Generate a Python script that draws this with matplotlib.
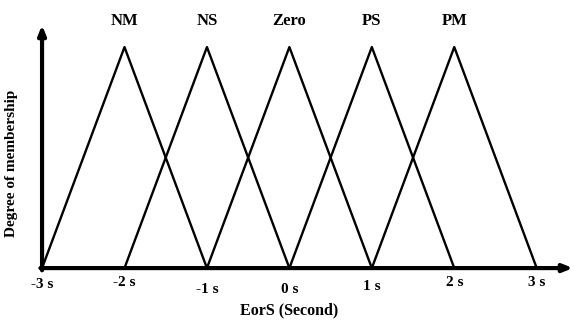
import matplotlib
matplotlib.use("Agg")
import matplotlib.pyplot as plt

# 隶属度関数のデータ
set_names = ["NM", "NS", "Zero", "PS", "PM"]
peaks = [-2, -1, 0, 1, 2]
half_width = 1
tick_values = [-3, -2, -1, 0, 1, 2, 3]
tick_labels = ["-3 s", "-2 s", "-1 s", "0 s", "1 s", "2 s", "3 s"]

plt.rcParams["font.family"] = ["Liberation Serif", "DejaVu Serif"]
plt.rcParams["font.weight"] = "bold"

fig = plt.figure(figsize=(5.73, 3.24), dpi=100)
ax = fig.add_axes([0, 0, 1, 1])
ax.set_xlim(-3.51, 3.44)
ax.set_ylim(-0.253, 1.213)
ax.axis("off")

# 三角形
for name, p in zip(set_names, peaks):
    ax.plot([p - half_width, p, p + half_width], [0, 1, 0], color="black", linewidth=1.7)
    ax.text(p, 1.12, name, ha="center", va="center", fontsize=12, fontweight="bold")

# 軸の矢印
arrow = dict(arrowstyle="-|>,head_length=0.55,head_width=0.22", color="black", lw=3,
             shrinkA=0, shrinkB=0)
ax.annotate("", xy=(3.44, 0), xytext=(-3.02, 0), arrowprops=arrow)
ax.annotate("", xy=(-3, 1.10), xytext=(-3, -0.01), arrowprops=arrow)

# 目盛ラベル（少しずつ高さがずれている）
label_dy = [0.0, 0.01, -0.02, -0.02, -0.01, 0.01, 0.01]
for v, lab, dy in zip(tick_values, tick_labels, label_dy):
    ax.text(v, -0.075 + dy, lab, ha="center", va="center", fontsize=11, fontweight="bold")

ax.text(0, -0.19, "EorS (Second)", ha="center", va="center", fontsize=11.5, fontweight="bold")
ax.text(-3.365, 0.475, "Degree of membership", ha="center", va="center", rotation=90,
        fontsize=11, fontweight="bold")

plt.savefig("out.png", dpi=100)
